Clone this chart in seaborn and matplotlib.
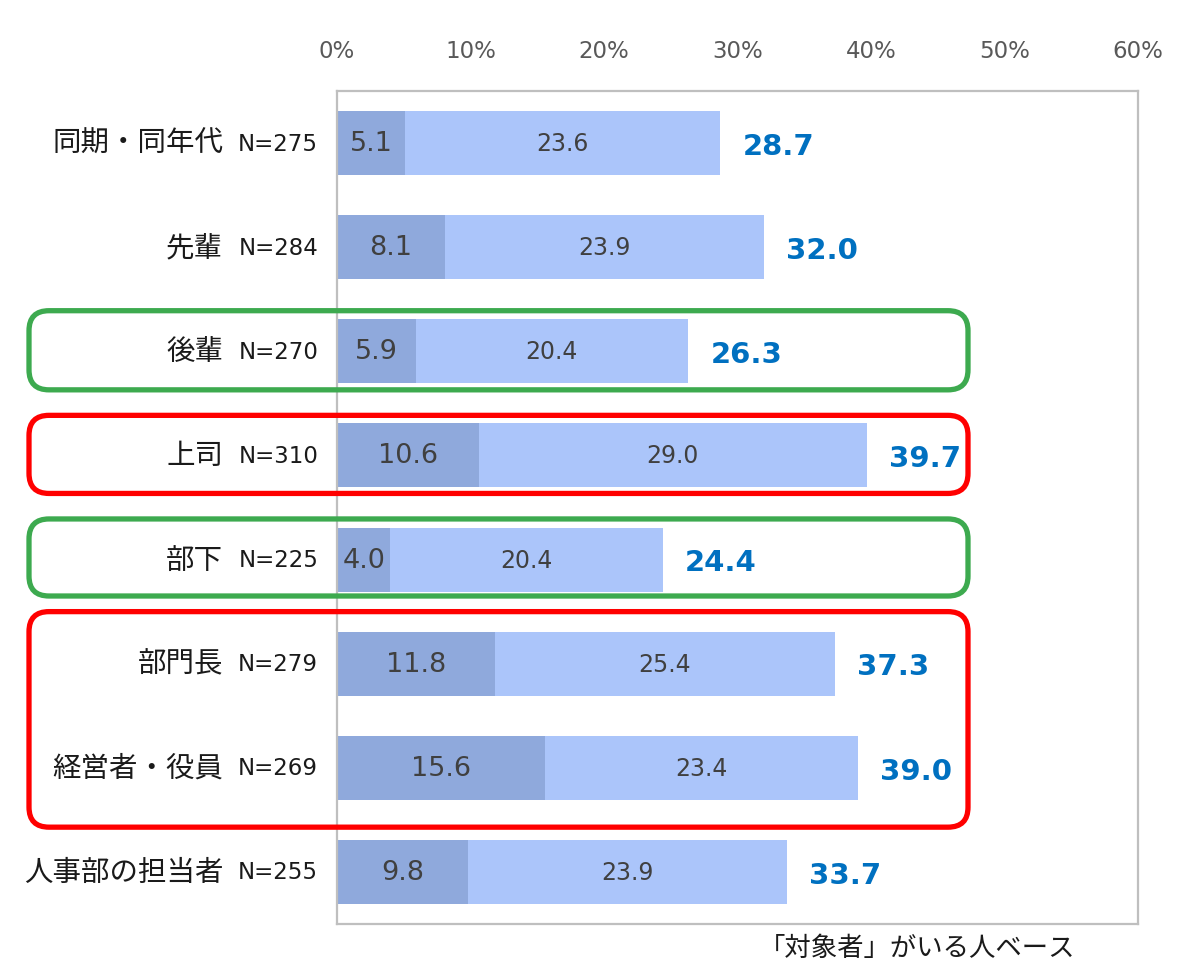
import matplotlib
matplotlib.use("Agg")
import matplotlib.pyplot as plt
import seaborn as sns
import pandas as pd
from matplotlib.patches import FancyBboxPatch
from matplotlib.ticker import FuncFormatter

categories = ["同期・同年代", "先輩", "後輩", "上司", "部下", "部門長", "経営者・役員", "人事部の担当者"]
n_values = [275, 284, 270, 310, 225, 279, 269, 255]
dark_values = [5.1, 8.1, 5.9, 10.6, 4.0, 11.8, 15.6, 9.8]
light_values = [23.6, 23.9, 20.4, 29.0, 20.4, 25.4, 23.4, 23.9]
total_values = [28.7, 32.0, 26.3, 39.7, 24.4, 37.3, 39.0, 33.7]
x_ticks = [0, 10, 20, 30, 40, 50, 60]
footnote = "「対象者」がいる人ベース"

sns.set_theme(style="white")
plt.rcParams['font.family'] = ['DejaVu Sans', 'Noto Sans CJK JP']
CJK = ['Noto Sans CJK JP', 'DejaVu Sans']

DARK = "#8FA9DC"
LIGHT = "#ABC5FA"
BLUE = "#0070C0"
TXT = "#404040"

df = pd.DataFrame({"cat": categories, "dark": dark_values, "light": light_values,
                   "total": total_values, "n": n_values})

fig = plt.figure(figsize=(12, 9.79), dpi=100)
ax = fig.add_axes([337/1200, 1-925/979, (1138-337)/1200, (925-92)/979])

sns.barplot(data=df, x="total", y="cat", color=LIGHT, width=0.615, saturation=1,
            linewidth=0, ax=ax)
sns.barplot(data=df, x="dark", y="cat", color=DARK, width=0.615, saturation=1,
            linewidth=0, ax=ax)

ax.set_xlim(0, 60)
ax.set_ylim(len(categories) - 0.5, -0.5)
ax.xaxis.tick_top()
ax.set_xticks(x_ticks)
ax.xaxis.set_major_formatter(FuncFormatter(lambda v, p: f"{v:.0f}%"))
ax.tick_params(axis="x", length=0, pad=21, labelsize=16.5, labelcolor="#595959")
ax.set_yticks([])
ax.set_xlabel("")
ax.set_ylabel("")
for s in ax.spines.values():
    s.set_color("#BFBFBF")
    s.set_linewidth(1.6)

for i, row in df.iterrows():
    ax.text(row["dark"] / 2, i, f"{row['dark']:.1f}", ha="center", va="center",
            fontsize=19.5, color=TXT)
    ax.text((row["dark"] + row["total"]) / 2, i, f"{row['light']:.1f}", ha="center",
            va="center", fontsize=17, color=TXT)
    ax.annotate(f"{row['total']:.1f}", xy=(row["total"], i), xytext=(16, -2),
                textcoords="offset points", ha="left", va="center",
                fontsize=21, fontweight="bold", color=BLUE)
    ax.annotate(row["cat"], xy=(0, i), xycoords=("axes fraction", "data"),
                xytext=(-82, 0), textcoords="offset points", ha="right", va="center",
                fontsize=20.5, color="#1a1a1a", family=CJK)
    ax.annotate(f"N={row['n']}", xy=(0, i), xycoords=("axes fraction", "data"),
                xytext=(-13.5, 0), textcoords="offset points", ha="right", va="center",
                fontsize=16.5, color="#1a1a1a")

fig.text(1075/1200, 1-948/979, footnote, ha="right", va="center", fontsize=19,
         color="#1a1a1a", family=CJK)

# highlight boxes (rows index ranges), drawn in inches
fig.canvas.draw()
boxes = [(2, 2, "#3DAA4F", 0.39, 0.37), (3, 3, "#FF0000", 0.385, 0.365),
         (4, 4, "#3DAA4F", 0.39, 0.35), (5, 6, "#FF0000", 0.5, 0.57)]
to_in = fig.dpi_scale_trans.inverted()
for r0, r1, col, pad_top, pad_bot in boxes:
    _, ytop = ax.transData.transform((0, r0 - pad_top))
    _, ybot = ax.transData.transform((0, r1 + pad_bot))
    (_, ytop_in) = to_in.transform((0, ytop))
    (_, ybot_in) = to_in.transform((0, ybot))
    x0, x1 = 0.29, 9.68
    r = 0.2
    patch = FancyBboxPatch((x0 + r, ybot_in + r), (x1 - x0) - 2 * r, (ytop_in - ybot_in) - 2 * r,
                           boxstyle=f"round,pad={r}", transform=fig.dpi_scale_trans,
                           fill=False, edgecolor=col, linewidth=3.8, zorder=5)
    fig.add_artist(patch)

fig.savefig("out.png", dpi=100)
